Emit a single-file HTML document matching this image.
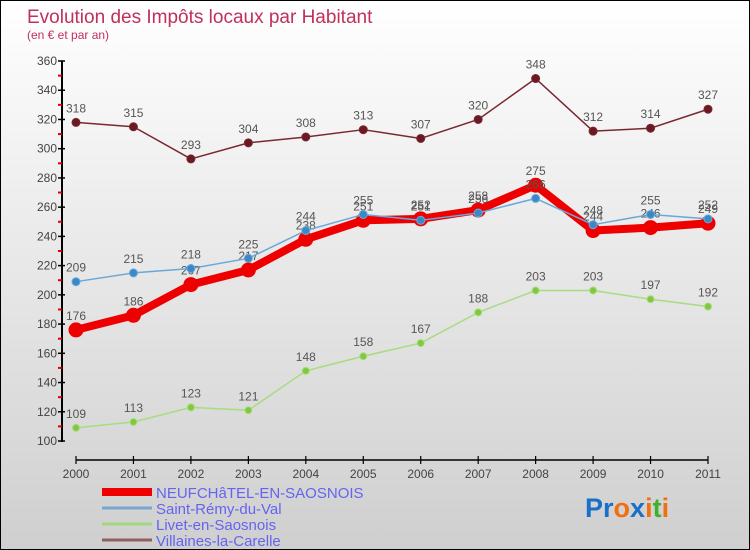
<!DOCTYPE html>
<html><head><meta charset="utf-8">
<style>
body{margin:0;}
#wrap{position:relative;width:748px;height:548px;border:1px solid #000;background:linear-gradient(#ffffff,#cfcfcf);overflow:hidden;font-family:"Liberation Sans",sans-serif;}
</style></head>
<body>
<div id="wrap">
<svg id="chart" width="748" height="548" xmlns="http://www.w3.org/2000/svg">
<text x="26" y="22" font-size="19" fill="#c0305a">Evolution des Impôts locaux par Habitant</text>
<text x="26" y="38" font-size="12" fill="#c0305a">(en € et par an)</text>
<g id="axes"></g>
<g id="series"></g>
<g id="legend"></g>
<text x="584" y="516" font-size="27" font-weight="bold"><tspan fill="#1a6fc8">Pr</tspan><tspan fill="#f07010">o</tspan><tspan fill="#1a6fc8">x</tspan><tspan fill="#f07010">i</tspan><tspan fill="#40b030">t</tspan><tspan fill="#f07010">i</tspan></text>
</svg>
</div>
<script>
const years=["2000","2001","2002","2003","2004","2005","2006","2007","2008","2009","2010","2011"];
const yTicks=[100,120,140,160,180,200,220,240,260,280,300,320,340,360];
const seriesNames=["NEUFCHâTEL-EN-SAOSNOIS","Saint-Rémy-du-Val","Livet-en-Saosnois","Villaines-la-Carelle"];
const neufchatel=[176,186,207,217,238,251,252,258,275,244,246,249];
const saintRemy=[209,215,218,225,244,255,251,256,266,248,255,252];
const livet=[109,113,123,121,148,158,167,188,203,203,197,192];
const villaines=[318,315,293,304,308,313,307,320,348,312,314,327];

const NS="http://www.w3.org/2000/svg";
const X0=75,X1=707,Y0=440,Y1=60,VMIN=100,VMAX=360;
function xs(i){return X0+(X1-X0)*i/(years.length-1);}
function ys(v){return Y0-(v-VMIN)*(Y0-Y1)/(VMAX-VMIN);}
function mk(tag,attrs,parent){const e=document.createElementNS(NS,tag);for(const k in attrs)e.setAttribute(k,attrs[k]);parent.appendChild(e);return e;}
const axes=document.getElementById('axes');
let yl=mk('line',{x1:61,y1:ys(VMAX),x2:61,y2:Y0+1,stroke:'#000','stroke-width':2},axes);


for(let v=VMIN+10;v<VMAX;v+=20){
 const t=mk('line',{x1:57,x2:61,y1:ys(v),y2:ys(v),stroke:'#e00000','stroke-width':2},axes);
 
 
}
yTicks.forEach(v=>{
 const t=mk('line',{x1:57,x2:64,y1:ys(v),y2:ys(v),stroke:'#000','stroke-width':1.5},axes);
 
 
 const l=mk('text',{x:56,y:ys(v)+4,'text-anchor':'end','font-size':12,fill:'#444'},axes);
 l.textContent=v;
 
 
});
let xl=mk('line',{x1:X0,x2:X1,y1:459,y2:459,stroke:'#000','stroke-width':1.5},axes);


years.forEach((y,i)=>{
 const t=mk('line',{x1:xs(i),x2:xs(i),y1:455,y2:463,stroke:'#000','stroke-width':1.2},axes);
 
 
 const l=mk('text',{x:xs(i),y:477,'text-anchor':'middle','font-size':12,fill:'#444'},axes);
 l.textContent=y;
 
 
});
const ser=document.getElementById('series');
function draw(data,color,fill,w,r,name){
 const g=mk('g',{},ser);
 
 
 const pl=mk('polyline',{points:data.map((v,i)=>xs(i)+','+ys(v)).join(' '),fill:'none',stroke:color,'stroke-width':w,'stroke-linejoin':'round'},g);
 
 
 data.forEach((v,i)=>{
  const c=mk('circle',{cx:xs(i),cy:ys(v),r:r,fill:fill,stroke:color,'stroke-width':1},g);
  
  
  const t=mk('text',{x:xs(i),y:ys(v)-10,'text-anchor':'middle','font-size':12,fill:'#555'},g);
  t.textContent=v;
  
  
 });
}
draw(villaines,'#7a2830','#6a1a22',1.5,4,'villaines');
draw(livet,'#a8dc80','#80c840',1.5,3.5,'livet');
draw(neufchatel,'#ee0000','#ee0000',8,7,'neufchatel');
draw(saintRemy,'#6aa8d8','#3a88c8',1.5,4,'saint-remy');
const leg=document.getElementById('legend');
const legColors=['#ee0000','#78a8d0','#a0d880','#906060'];
const legW=[8,3,3,3];
seriesNames.forEach((n,i)=>{
 const y=491+i*16;
 const l=mk('line',{x1:101,x2:151,y1:y,y2:y,stroke:legColors[i],'stroke-width':legW[i]},leg);
 
 
 const t=mk('text',{x:155,y:y+6,'font-size':15,fill:'#6464f0'},leg);
 t.textContent=n;
 
 
});
</script>
</body></html>
